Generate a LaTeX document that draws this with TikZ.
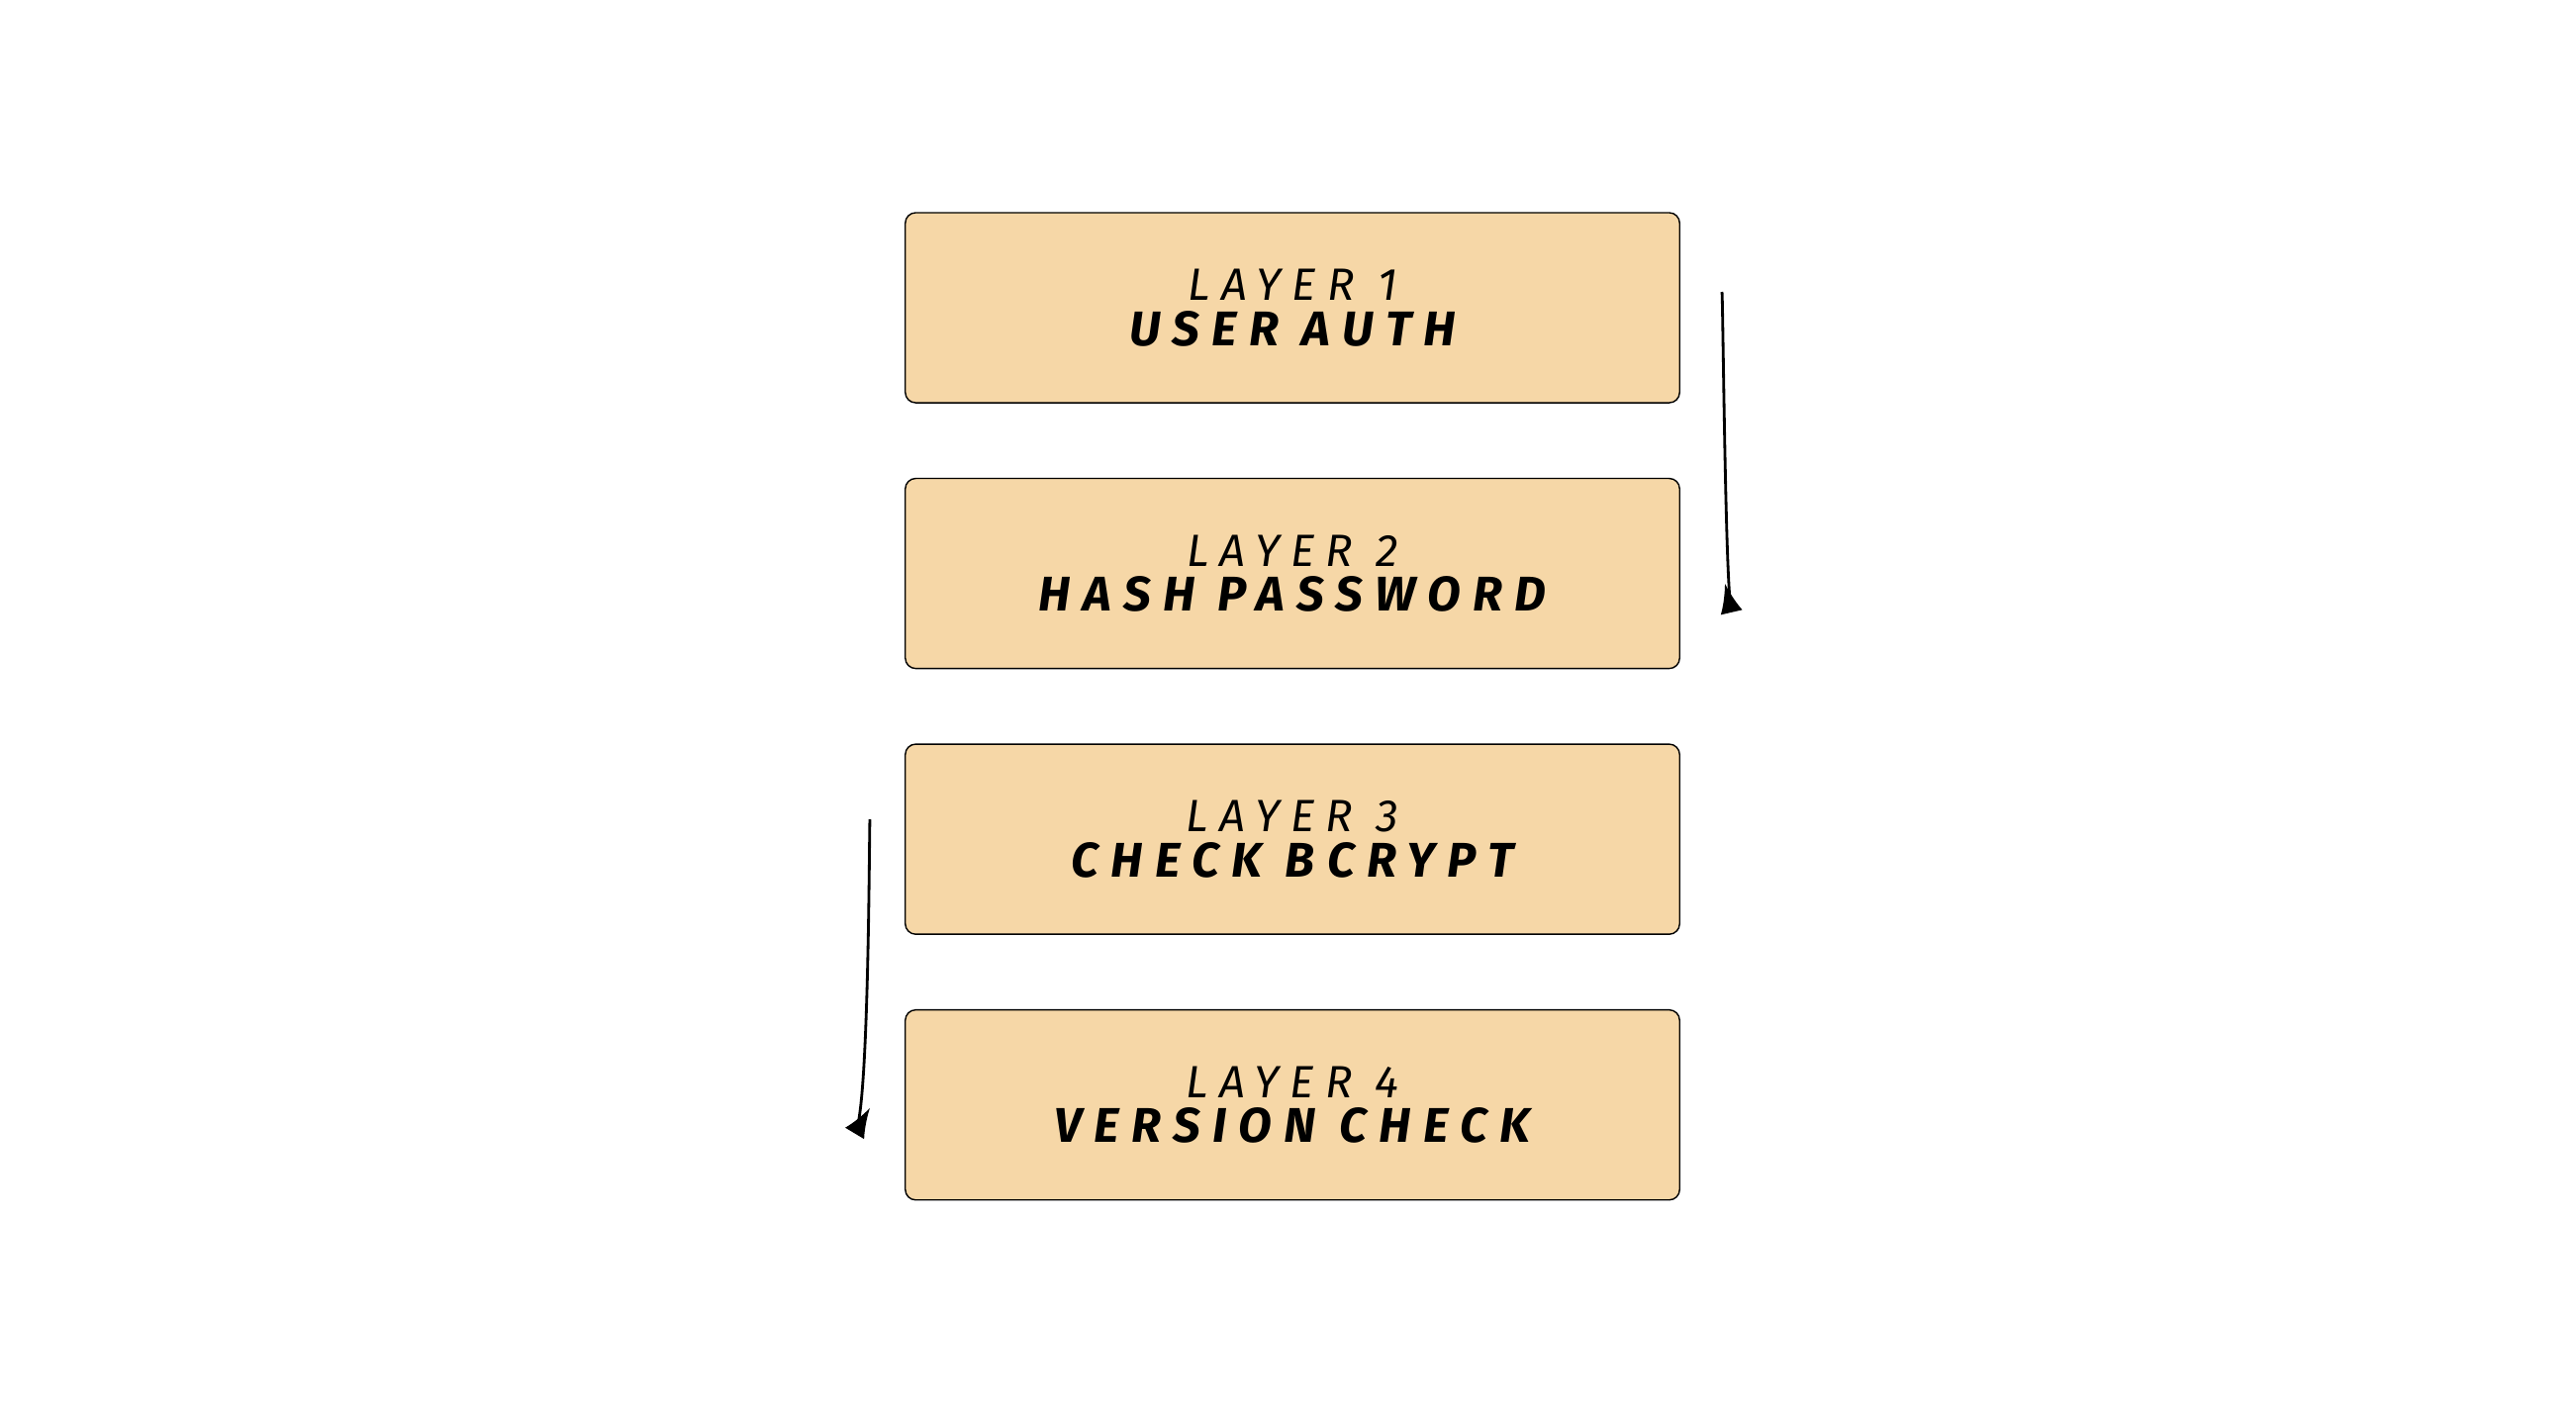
\documentclass[tikz,border=0pt]{standalone}
\usepackage{fontspec}
\setmainfont{Fira Sans}
\newfontfamily\layerfont[LetterSpace=25]{Fira Sans}
\usetikzlibrary{arrows.meta}
\usetikzlibrary{positioning}
\definecolor{layerfill}{HTML}{F6D7A7}
\tikzset{
	layer/.style={rectangle, draw, thin, fill=layerfill, rounded corners=3pt,
		minimum width=7.82cm, minimum height=1.92cm, align=center},
	arrow/.style={draw, -{Latex[length=3mm]}, thick}
}
\newcommand{\layerlabel}[2]{{\layerfont\itshape\fontsize{13}{18}\selectfont #1}\\[1pt]{\layerfont\bfseries\itshape\fontsize{14}{18}\selectfont #2}}

\begin{document}
\begin{tikzpicture}[x=0.01cm, y=-0.01cm]
\useasboundingbox (0,0) rectangle (2603,1420);

\node[layer] (layer1) at (1306,311) {\layerlabel{LAYER 1}{USER AUTH}};
\node[layer, below = 0.75cm of layer1] (layer2) {\layerlabel{LAYER 2}{HASH PASSWORD}};
\node[layer, below = 0.75cm of layer2] (layer3) {\layerlabel{LAYER 3}{CHECK BCRYPT}};
\node[layer, below = 0.75cm of layer3] (layer4) {\layerlabel{LAYER 4}{VERSION CHECK}};

\coordinate (out1) at ([xshift=0.42cm, yshift=0.16cm]layer1.east);
\coordinate (in2) at ([xshift=0.45cm, yshift=-0.1cm]layer2.east);
\coordinate (out3) at ([xshift=-0.35cm, yshift=0.2cm]layer3.west);
\coordinate (in4) at ([xshift=-0.35cm, yshift=-0.03cm]layer4.west);

\draw [arrow] (out1) .. controls +(1.0,-1.2) and +(0.3,1.3) .. (in2);
\draw [arrow] (out3) .. controls +(-0.8,-1.2) and +(-0.6,1.0) .. (in4);

\end{tikzpicture}
\end{document}
